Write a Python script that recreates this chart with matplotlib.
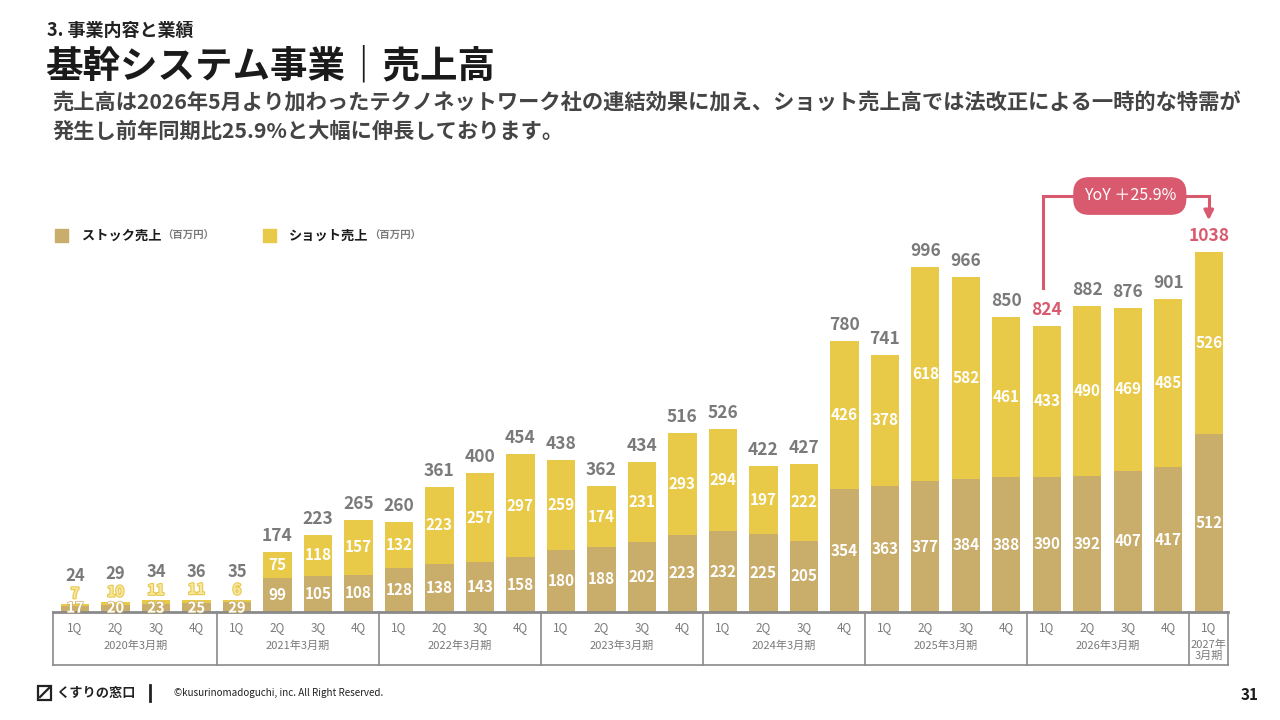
import matplotlib.pyplot as plt
import matplotlib.patheffects as pe
from matplotlib.patches import Rectangle
import numpy as np

plt.rcParams['font.family'] = ['Noto Sans CJK JP', 'DejaVu Sans']

# Data---------------------------------------------------------------
#--------------------------------------------------------------------
quarters = ["1Q", "2Q", "3Q", "4Q"] * 7 + ["1Q"]
years = ["2020年3月期", "2021年3月期", "2022年3月期", "2023年3月期",
         "2024年3月期", "2025年3月期", "2026年3月期"]
last_year = "2027年\n3月期"

stock = [17, 20, 23, 25, 29, 99, 105, 108, 128, 138, 143, 158, 180, 188,
         202, 223, 232, 225, 205, 354, 363, 377, 384, 388, 390, 392, 407,
         417, 512]
shot = [7, 10, 11, 11, 6, 75, 118, 157, 132, 223, 257, 297, 259, 174,
        231, 293, 294, 197, 222, 426, 378, 618, 582, 461, 433, 490, 469,
        485, 526]
totals = [24, 29, 34, 36, 35, 174, 223, 265, 260, 361, 400, 454, 438, 362,
          434, 516, 526, 422, 427, 780, 741, 996, 966, 850, 824, 882, 876,
          901, 1038]
yoy_text = "YoY ＋25.9%"

# Colours
c_stock = "#C9AD6B"
c_shot = "#E8C948"
c_red = "#D95A6E"
c_gray = "#7a7a7a"

W, H = 1280, 720
fig = plt.figure(figsize=(12.8, 7.2), dpi=100)

def fx(x):
    return x / W

def fy(y):
    return 1 - y / H

# Axes: baseline at y=612px, top at y=200px
ax = fig.add_axes([fx(54.75), fy(612), (1229 - 54.75) / W, 412 / H])
ymax = 1187
ax.set_xlim(-0.5, 28.5)
ax.set_ylim(0, ymax)
ax.axis("off")
upp = ymax / 412.0  # data units per pixel

x = np.arange(len(stock))
ax.bar(x, stock, width=0.7, color=c_stock, zorder=2)
ax.bar(x, shot, width=0.7, bottom=stock, color=c_shot, zorder=2)

# Labels-------------------------------------------------------------
for i in range(len(x)):
    tcol = c_red if i in (24, 28) else c_gray
    if i < 5:
        # small bars: labels stacked above
        ax.text(i, 13, str(stock[i]), ha="center", va="center", color="white",
                fontsize=10.5, fontweight="bold", zorder=4,
                path_effects=[pe.withStroke(linewidth=1.0, foreground=c_stock)])
        ax.text(i, totals[i] + 30, str(shot[i]), ha="center", va="center",
                color="#f6e7a6", fontsize=10.5, fontweight="bold", zorder=4,
                path_effects=[pe.withStroke(linewidth=1.6, foreground=c_shot)])
        ax.text(i, totals[i] + 80, str(totals[i]), ha="center", va="center",
                color=tcol, fontsize=12, fontweight="bold", zorder=4)
    else:
        ax.text(i, stock[i] / 2, str(stock[i]), ha="center", va="center",
                color="white", fontsize=11, fontweight="bold", zorder=4)
        ax.text(i, stock[i] + shot[i] / 2, str(shot[i]), ha="center",
                va="center", color="white", fontsize=11, fontweight="bold",
                zorder=4)
        ax.text(i, stock[i] + shot[i] + 16 * upp, str(totals[i]),
                ha="center", va="center", color=tcol, fontsize=12.5,
                fontweight="bold", zorder=4)

# Table under the bars-----------------------------------------------
tr = ax.get_xaxis_transform()
y_q = -16 / 412
y_yr = -34 / 412
y_bot = -53 / 412
ax.plot([-0.55, 28.47], [0, 0], transform=tr, color="#8a8a8a", lw=2,
        clip_on=False, zorder=3)
ax.plot([-0.55, 28.47], [y_bot, y_bot], transform=tr, color="#8a8a8a",
        lw=1.2, clip_on=False)
for sx in [-0.55, 3.5, 7.5, 11.5, 15.5, 19.5, 23.5, 27.5, 28.47]:
    ax.plot([sx, sx], [0, y_bot], transform=tr, color="#8a8a8a", lw=1.2,
            clip_on=False)
for i, q in enumerate(quarters):
    ax.text(i, y_q, q, transform=tr, ha="center", va="center",
            color=c_gray, fontsize=8.5)
for k, yr in enumerate(years):
    ax.text(4 * k + 1.5, y_yr, yr, transform=tr, ha="center", va="center",
            color=c_gray, fontsize=8)
ax.text(28, -38 / 412, last_year, transform=tr, ha="center", va="center",
        color=c_gray, fontsize=8, linespacing=1.15)

# YoY callout--------------------------------------------------------
y_line = (612 - 196) * upp
ax.plot([23.9, 23.9, 28, 28], [(612 - 288) * upp, y_line, y_line,
        (612 - 212) * upp], color=c_red, lw=2.2, clip_on=False,
        solid_joinstyle="miter")
ax.annotate("", xy=(28, (612 - 223) * upp), xytext=(28, (612 - 210) * upp),
            arrowprops=dict(arrowstyle="-|>", color=c_red, lw=2.2,
                            mutation_scale=14),
            annotation_clip=False)
ax.text(26.05, y_line, yoy_text, ha="center", va="center", color="white",
        fontsize=11.5, zorder=6,
        bbox=dict(boxstyle="round,pad=0.65,rounding_size=1.0", fc=c_red,
                  ec="none"))

# Titles-------------------------------------------------------------
fig.text(fx(47), fy(30), "3. 事業内容と業績", fontsize=13,
         fontweight="bold", color="#222222", va="center")
fig.text(fx(45), fy(66), "基幹システム事業｜売上高", fontsize=27,
         fontweight="bold", color="#1a1a1a", va="center")
fig.text(fx(52), fy(103),
         "売上高は2026年5月より加わったテクノネットワーク社の連結効果に加え、"
         "ショット売上高では法改正による一時的な特需が",
         fontsize=15.3, fontweight="bold", color="#444444", va="center")
fig.text(fx(52), fy(131), "発生し前年同期比25.9%と大幅に伸長しております。",
         fontsize=15.3, fontweight="bold", color="#444444", va="center")

# Legend-------------------------------------------------------------
fig.patches.append(Rectangle((fx(55), fy(242)), 13 / W, 13 / H,
                             transform=fig.transFigure, color=c_stock))
fig.text(fx(82), fy(236), "ストック売上", fontsize=9.5, fontweight="bold",
         color="#1a1a1a", va="center")
fig.text(fx(162), fy(236), "（百万円）", fontsize=7.5, fontweight="bold",
         color=c_gray, va="center")
fig.patches.append(Rectangle((fx(263), fy(242)), 13 / W, 13 / H,
                             transform=fig.transFigure, color=c_shot))
fig.text(fx(289), fy(236), "ショット売上", fontsize=9.5, fontweight="bold",
         color="#1a1a1a", va="center")
fig.text(fx(369), fy(236), "（百万円）", fontsize=7.5, fontweight="bold",
         color=c_gray, va="center")

# Footer-------------------------------------------------------------
fig.patches.append(Rectangle((fx(38), fy(700)), 13 / W, 14 / H,
                             transform=fig.transFigure, fill=False,
                             ec="#222222", lw=1.6))
fig.lines.append(plt.Line2D([fx(40), fx(49)], [fy(697), fy(688)],
                            transform=fig.transFigure, color="#222222",
                            lw=1.6))
fig.text(fx(56), fy(693), "くすりの窓口", fontsize=9.5, fontweight="bold",
         color="#222222", va="center")
fig.lines.append(plt.Line2D([fx(150), fx(150)], [fy(685), fy(701)],
                            transform=fig.transFigure, color="#222222",
                            lw=2))
fig.text(fx(174), fy(693), "©kusurinomadoguchi, inc. All Right Reserved.",
         fontsize=7.1, color="#222222", va="center")
fig.text(fx(1250), fy(695), "31", fontsize=11, fontweight="bold",
         color="#1a1a1a", va="center", ha="center")

fig.savefig("out.png", dpi=100)
